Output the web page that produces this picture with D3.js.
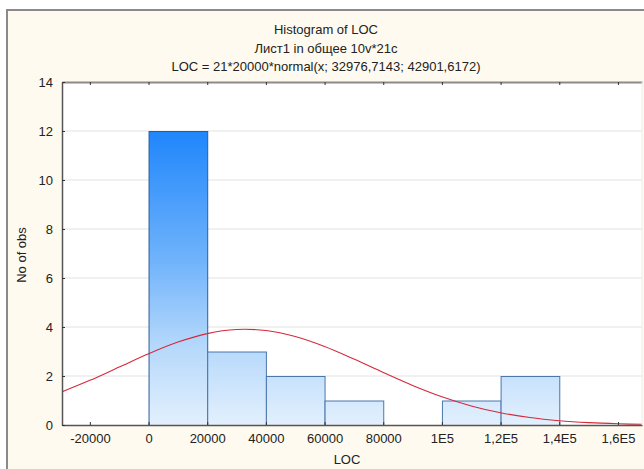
<!DOCTYPE html>
<html><head><meta charset="utf-8">
<script src="https://cdn.jsdelivr.net/npm/d3@7"></script>
<style>body{margin:0;background:#fff;} text{font-family:"Liberation Sans",Arial,sans-serif;fill:#222;}</style>
</head><body>
<svg id="c" width="644" height="469"></svg>
<script>
const binStarts = [0, 20000, 40000, 60000, 80000, 100000, 120000];
const binWidth = 20000;
const counts = [12, 3, 2, 1, 0, 1, 2];
const curveX = [-30000,-20000,-10000,0,10000,20000,30000,40000,50000,60000,70000,80000,90000,100000,110000,120000,130000,140000,150000,160000,170000];
const curveY = [1.330,1.822,2.365,2.907,3.384,3.731,3.897,3.854,3.610,3.203,2.692,2.142,1.615,1.153,0.779,0.499,0.303,0.174,0.095,0.049,0.024];
const xTicks = [-20000,0,20000,40000,60000,80000,100000,120000,140000,160000];
const xTickLabels = ["-20000","0","20000","40000","60000","80000","1E5","1,2E5","1,4E5","1,6E5"];
const yTicks = [0,2,4,6,8,10,12,14];
const titles = ["Histogram of LOC","Лист1 in общее 10v*21c","LOC = 21*20000*normal(x; 32976,7143; 42901,6172)"];

const svg = d3.select("#c");
const L=62, T=82, R=642, B=425;
// outer frame
svg.append("rect").attr("x",7).attr("y",10).attr("width",660).attr("height",480)
  .attr("fill","#fffaef").attr("stroke","#8a8a8a").attr("stroke-width",2);
svg.append("rect").attr("x",L).attr("y",T).attr("width",R-L).attr("height",B-T).attr("fill","#fff");

const x = d3.scaleLinear().domain([-29500,168200]).range([L,R]);
const y = d3.scaleLinear().domain([0,14]).range([B,T]);

// gridlines
svg.append("g").selectAll("line").data(yTicks.filter(d=>d>0&&d<14)).join("line")
  .attr("x1",L).attr("x2",R).attr("y1",d=>y(d)).attr("y2",d=>y(d))
  .attr("stroke","#e2e2e2").attr("stroke-width",1);

const defs = svg.append("defs");
const g = defs.append("linearGradient").attr("id","bg").attr("gradientUnits","userSpaceOnUse")
  .attr("x1",0).attr("x2",0).attr("y1",y(12)).attr("y2",B);
g.append("stop").attr("offset","0").attr("stop-color","#1f86fb");
g.append("stop").attr("offset","0.45").attr("stop-color","#72b4fb");
g.append("stop").attr("offset","0.72").attr("stop-color","#b3d7fb");
g.append("stop").attr("offset","1").attr("stop-color","#e3f0fd");

svg.append("g").selectAll("rect").data(binStarts.map((s,i)=>({s,c:counts[i]})).filter(d=>d.c>0)).join("rect")
  .attr("x",d=>x(d.s)+0.5).attr("y",d=>y(d.c)+0.5)
  .attr("width",d=>x(d.s+binWidth)-x(d.s)).attr("height",d=>y(0)-y(d.c))
  .attr("fill","url(#bg)").attr("stroke",d=>d.c>10?"#2a5c9c":"#4a76ac").attr("stroke-width",1);

// normal curve
const line = d3.line().x((d,i)=>x(curveX[i])).y(d=>y(d)).curve(d3.curveCatmullRom);
svg.append("clipPath").attr("id","cp").append("rect").attr("x",L).attr("y",T).attr("width",R-L).attr("height",B-T);
svg.append("path").datum(curveY).attr("d",line).attr("fill","none")
  .attr("stroke","#d42a3a").attr("stroke-width",1.1).attr("clip-path","url(#cp)");

// axes
const xa = svg.append("g").attr("transform",`translate(0,${B})`)
  .call(d3.axisBottom(x).tickValues(xTicks).tickFormat((d,i)=>xTickLabels[i]).tickSizeInner(-3).tickSizeOuter(0).tickPadding(9));
const xt = svg.append("g").attr("transform",`translate(0,${T})`)
  .call(d3.axisTop(x).tickValues(xTicks).tickFormat("").tickSizeInner(-3).tickSizeOuter(0));
const ya = svg.append("g").attr("transform",`translate(${L},0)`)
  .call(d3.axisLeft(y).tickValues(yTicks).tickSizeInner(-3).tickSizeOuter(0).tickPadding(9));
[xa,xt,ya].forEach(a=>{
  a.selectAll("text").style("font-size","13px").attr("fill","#222");
  a.selectAll(".tick line").attr("stroke","#333");
});
xa.select(".domain").attr("stroke","#555").attr("stroke-width",1.5);
xt.select(".domain").attr("stroke","#8a8a8a").attr("stroke-width",2);
ya.select(".domain").attr("stroke","#555").attr("stroke-width",1.5);
svg.append("line").attr("x1",R).attr("x2",R).attr("y1",T).attr("y2",B).attr("stroke","#eee");

// titles
titles.forEach((t,i)=>svg.append("text").attr("x",326).attr("y",34+i*18.5)
  .attr("text-anchor","middle").style("font-size","13px").text(t));
svg.append("text").attr("x",347).attr("y",464).attr("text-anchor","middle").style("font-size","13px").text("LOC");
svg.append("text").attr("transform","translate(26,255) rotate(-90)").attr("text-anchor","middle").style("font-size","13px").text("No of obs");
</script>
</body></html>
